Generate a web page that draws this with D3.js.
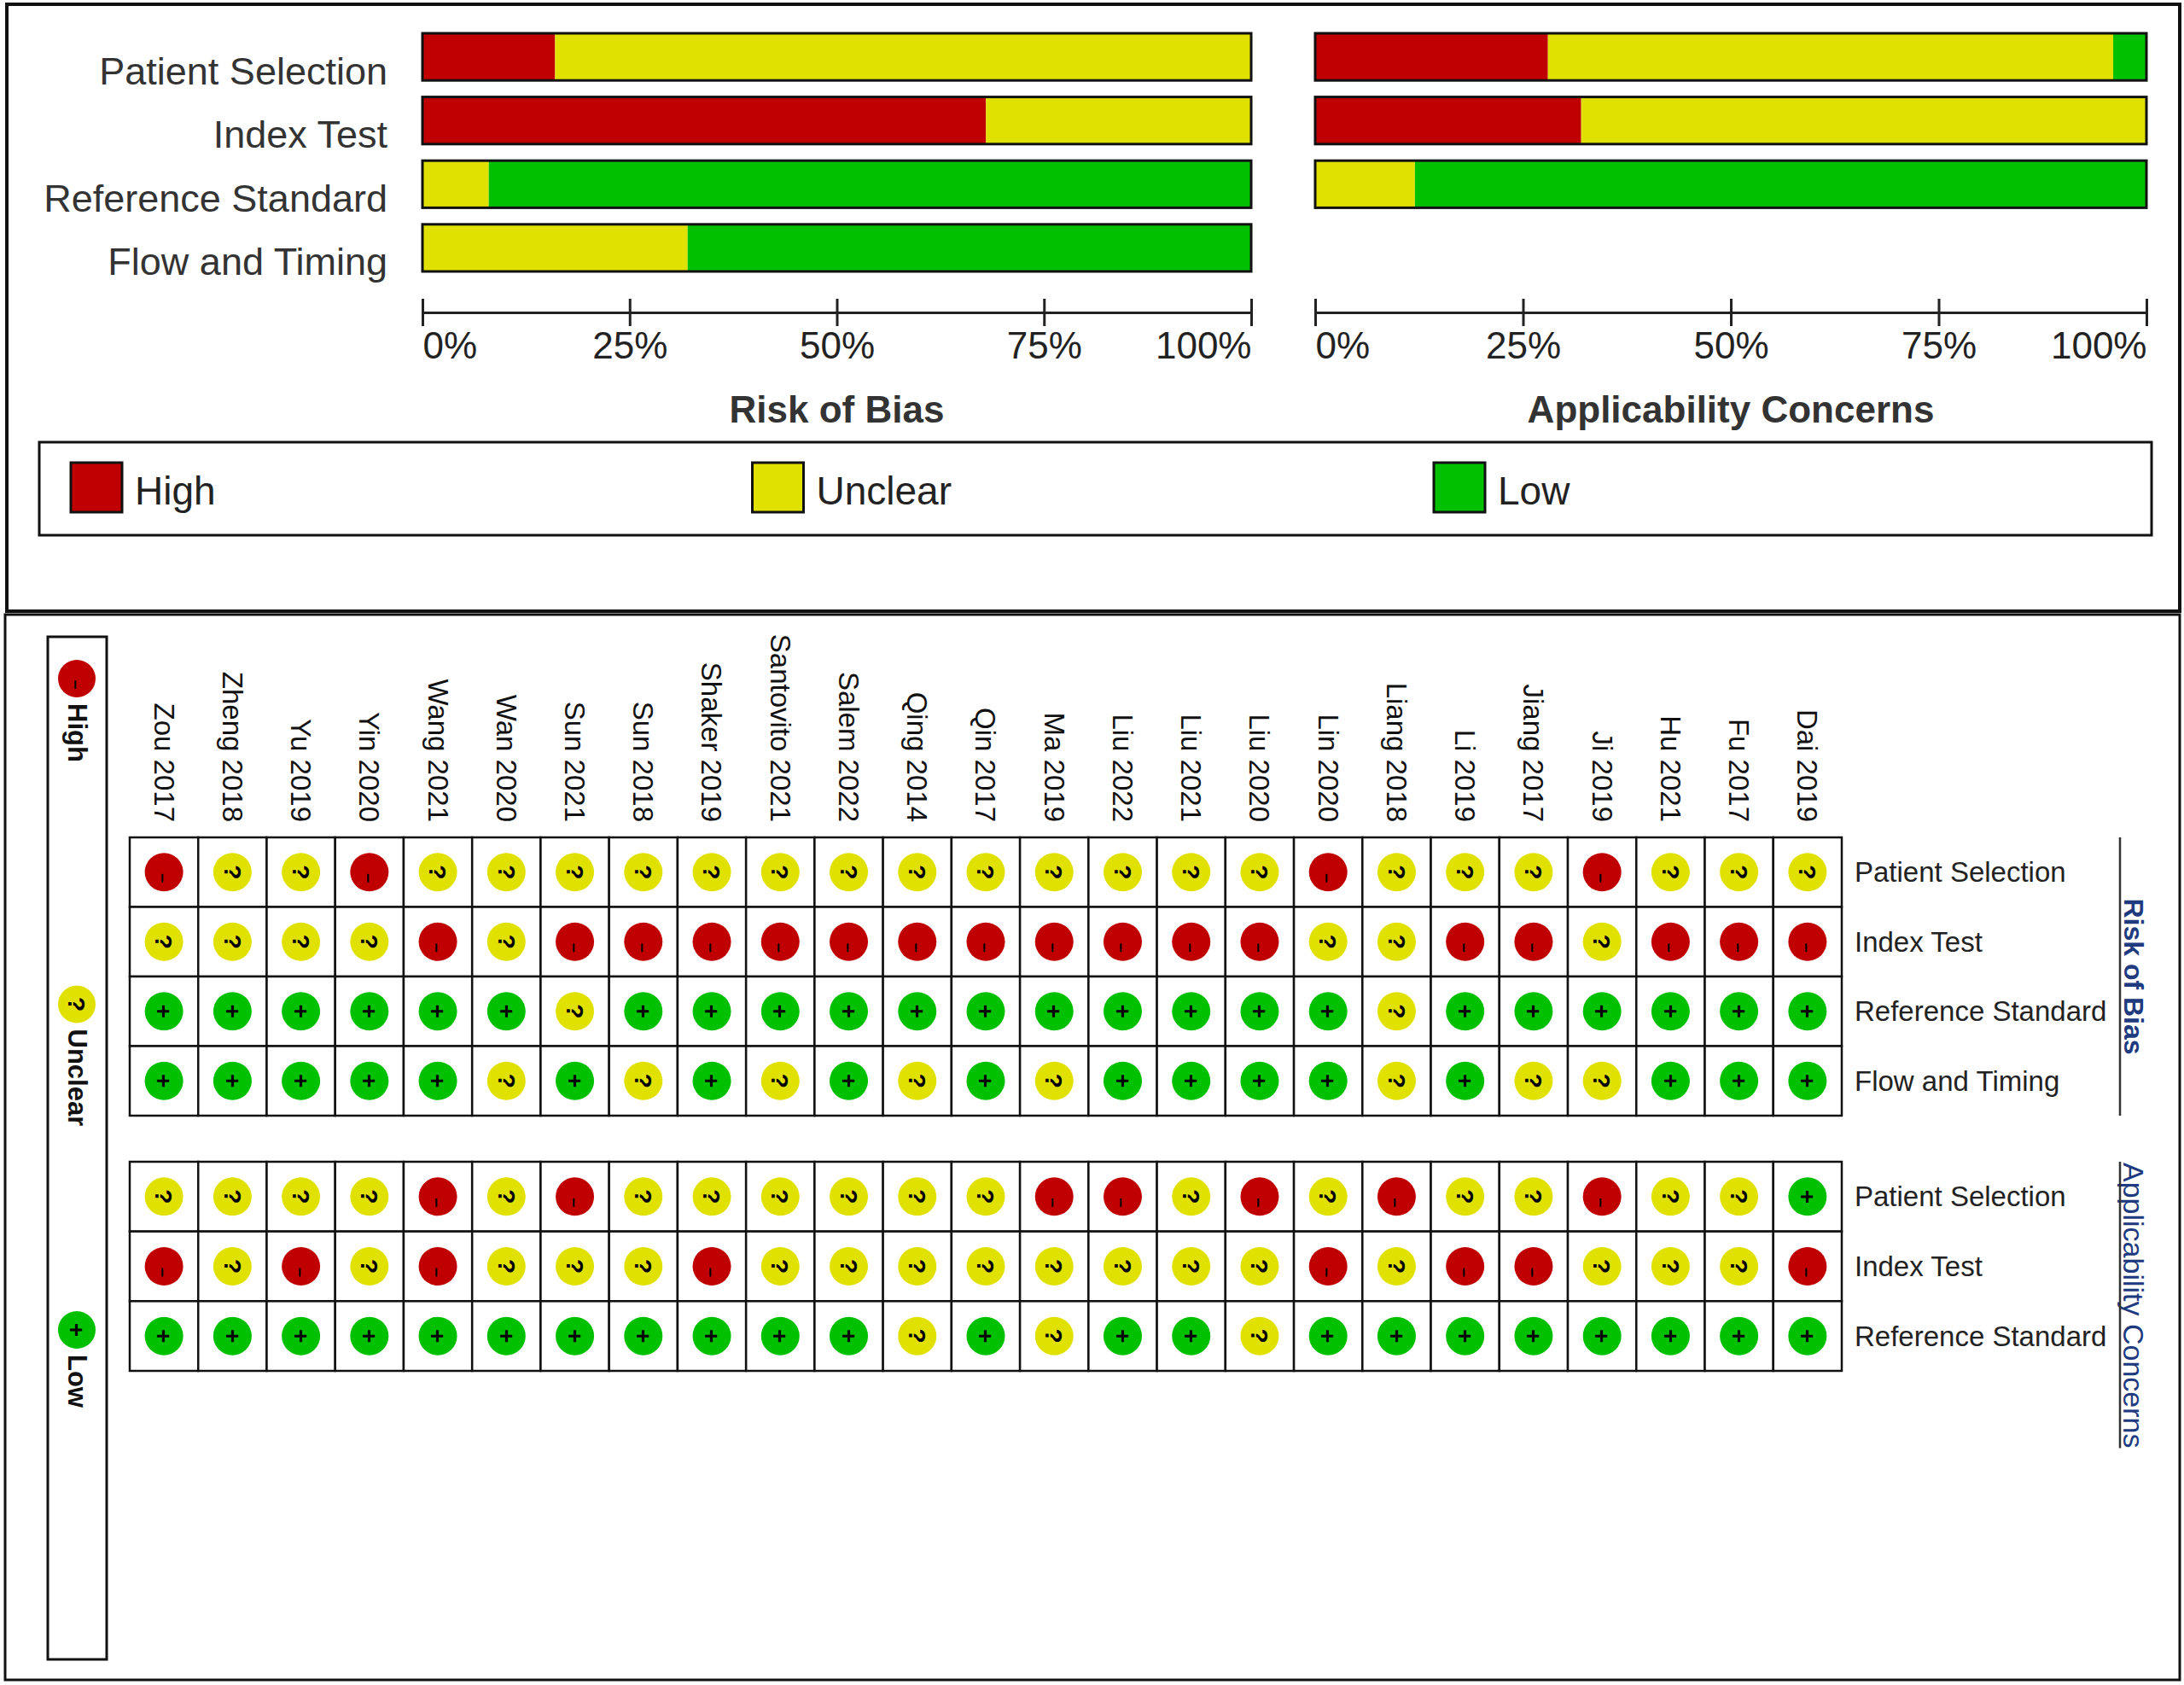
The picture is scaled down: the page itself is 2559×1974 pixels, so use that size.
<!DOCTYPE html>
<html>
<head>
<meta charset="utf-8">
<script src="https://cdn.jsdelivr.net/npm/d3@7"></script>
<style>
  body { margin: 0; background: #fff; }
  svg { display: block; font-family: "Liberation Sans", Arial, sans-serif; }
</style>
</head>
<body>
<div id="chart"></div>
<script>
"use strict";

// Studies, in the order they are shown (columns)
const studies = ["Zou 2017", "Zheng 2018", "Yu 2019", "Yin 2020", "Wang 2021", "Wan 2020",
    "Sun 2021", "Sun 2018", "Shaker 2019", "Santovito 2021", "Salem 2022", "Qing 2014",
    "Qin 2017", "Ma 2019", "Liu 2022", "Liu 2021", "Liu 2020", "Lin 2020", "Liang 2018",
    "Li 2019", "Jiang 2017", "Ji 2019", "Hu 2021", "Fu 2017", "Dai 2019"];

const biasDomains = ["Patient Selection", "Index Test", "Reference Standard", "Flow and Timing"];
const applDomains = ["Patient Selection", "Index Test", "Reference Standard"];

const levels = ["H", "U", "L"];
const levelNames = ["High", "Unclear", "Low"];
const levelColors = ["#c00000", "#e1e100", "#00c000"];
const levelSymbols = ["\u2013", "?", "+"];
const percentTicks = [0, 0.25, 0.5, 0.75, 1];

// Risk of bias judgements (one entry per study)
const biasPatientSelection  = ["H","U","U","H","U","U","U","U","U","U","U","U","U","U","U","U","U","H","U","U","U","H","U","U","U"];
const biasIndexTest         = ["U","U","U","U","H","U","H","H","H","H","H","H","H","H","H","H","H","U","U","H","H","U","H","H","H"];
const biasReferenceStandard = ["L","L","L","L","L","L","U","L","L","L","L","L","L","L","L","L","L","L","U","L","L","L","L","L","L"];
const biasFlowTiming        = ["L","L","L","L","L","U","L","U","L","U","L","U","L","U","L","L","L","L","U","L","U","U","L","L","L"];

// Applicability concerns judgements
const applPatientSelection  = ["U","U","U","U","H","U","H","U","U","U","U","U","U","H","H","U","H","U","H","U","U","H","U","U","L"];
const applIndexTest         = ["H","U","H","U","H","U","U","U","H","U","U","U","U","U","U","U","U","H","U","H","H","U","U","U","H"];
const applReferenceStandard = ["L","L","L","L","L","L","L","L","L","L","L","U","L","U","L","L","U","L","L","L","L","L","L","L","L"];

const biasRows = [biasPatientSelection, biasIndexTest, biasReferenceStandard, biasFlowTiming];
const applRows = [applPatientSelection, applIndexTest, applReferenceStandard];

var width = 2559, height = 1974;
var svg = d3.select('#chart').append('svg')
    .attr('width', width)
    .attr('height', height);

var color = d3.scaleOrdinal(levels, levelColors);
var symbol = d3.scaleOrdinal(levels, levelSymbols);
var symbolShift = { H: 7, U: 0, L: 0 };
var symbolSize = { H: 20, U: 28, L: 28 };

// Panel frames
svg.append('rect')
    .attr('x', 8).attr('y', 5).attr('width', 2546).attr('height', 711)
    .attr('fill', 'none').attr('stroke', '#111').attr('stroke-width', 4);
svg.append('rect')
    .attr('x', 6).attr('y', 720).attr('width', 2548).attr('height', 1248)
    .attr('fill', 'none').attr('stroke', '#111').attr('stroke-width', 3);

// ---------- Summary bars ----------
var yBar = d3.scaleBand()
    .domain(biasDomains)
    .range([39, 318])
    .paddingInner(0.26);

function summarise(rows, names) {
    return rows.map(function (r, i) {
        var o = { domain: names[i] };
        levels.forEach(l => o[l] = r.filter(v => v === l).length / r.length);
        return o;
    });
}

var stack = d3.stack().keys(levels);

function drawSummary(rows, names, x0, x1, title) {
    var x = d3.scaleLinear().domain([0, 1]).range([x0, x1]);
    var series = stack(summarise(rows, names));
    var g = svg.append('g');

    g.selectAll('g.series')
        .data(series)
        .enter()
        .append('g')
        .attr('fill', d => color(d.key))
        .selectAll('rect')
        .data(d => d)
        .enter()
        .append('rect')
        .attr('x', d => x(d[0]))
        .attr('y', d => yBar(d.data.domain))
        .attr('width', d => x(d[1]) - x(d[0]))
        .attr('height', yBar.bandwidth());

    g.selectAll('rect.outline')
        .data(names)
        .enter()
        .append('rect')
        .attr('class', 'outline')
        .attr('x', x(0))
        .attr('y', d => yBar(d))
        .attr('width', x(1) - x(0))
        .attr('height', yBar.bandwidth())
        .attr('fill', 'none')
        .attr('stroke', '#111')
        .attr('stroke-width', 3);

    var axis = g.append('g')
        .attr('transform', 'translate(0,366)')
        .call(d3.axisBottom(x).tickValues(percentTicks).tickFormat(d3.format('.0%')).tickSizeOuter(0).tickSize(16));
    axis.attr('font-family', null).attr('font-size', null);
    axis.select('.domain').attr('stroke', '#222').attr('stroke-width', 3);
    axis.selectAll('.tick line')
        .attr('y1', -16).attr('y2', 16)
        .attr('stroke', '#222').attr('stroke-width', 3);
    axis.selectAll('.tick text')
        .attr('y', 54).attr('dy', 0)
        .attr('font-size', 44)
        .attr('fill', '#222')
        .attr('text-anchor', (d, i) => i === 0 ? 'start' : (i === percentTicks.length - 1 ? 'end' : 'middle'));

    g.append('text')
        .text(title)
        .attr('x', (x0 + x1) / 2)
        .attr('y', 495)
        .attr('text-anchor', 'middle')
        .attr('font-weight', 'bold')
        .attr('font-size', 44)
        .attr('fill', '#333');
}

drawSummary(biasRows, biasDomains, 495, 1466, 'Risk of Bias');
drawSummary(applRows, applDomains, 1541, 2515, 'Applicability Concerns');

// Domain labels of the summary bars
svg.selectAll('text.barlabel')
    .data(biasDomains)
    .enter()
    .append('text')
    .attr('class', 'barlabel')
    .text(d => d)
    .attr('x', 454)
    .attr('y', d => yBar(d) + yBar.bandwidth() / 2 + 32)
    .attr('text-anchor', 'end')
    .attr('font-size', 45)
    .attr('fill', '#333');

// Horizontal legend
svg.append('rect')
    .attr('x', 46).attr('y', 518).attr('width', 2475).attr('height', 109)
    .attr('fill', 'none').attr('stroke', '#111').attr('stroke-width', 3);

var xLegend = d3.scalePoint().domain(levels).range([83, 1680]);
var legendItems = svg.selectAll('g.legenditem')
    .data(levels)
    .enter()
    .append('g')
    .attr('transform', d => 'translate(' + xLegend(d) + ',542)');
legendItems.append('rect')
    .attr('width', 60).attr('height', 58)
    .attr('fill', d => color(d))
    .attr('stroke', '#111').attr('stroke-width', 3);
legendItems.append('text')
    .text((d, i) => levelNames[i])
    .attr('x', 75)
    .attr('y', 49)
    .attr('font-size', 46)
    .attr('fill', '#222');

// ---------- Traffic-light grid ----------
var xCol = d3.scaleBand().domain(studies).range([152, 2158]);

// Study labels (rotated)
svg.selectAll('text.study')
    .data(studies)
    .enter()
    .append('text')
    .attr('class', 'study')
    .text(d => d)
    .attr('transform', d => 'translate(' + (xCol(d) + xCol.bandwidth() / 2) + ',963) rotate(90)')
    .attr('text-anchor', 'end')
    .attr('dy', '0.35em')
    .attr('font-size', 33)
    .attr('fill', '#111');

function drawSymbol(sel, r) {
    sel.append('circle')
        .attr('r', r)
        .attr('fill', d => color(d.value));
    sel.append('text')
        .text(d => symbol(d.value))
        .attr('transform', 'rotate(90)')
        .attr('x', d => symbolShift[d.value])
        .attr('dy', '0.35em')
        .attr('text-anchor', 'middle')
        .attr('font-weight', 'bold')
        .attr('font-size', d => symbolSize[d.value])
        .attr('fill', '#000');
}

function drawGrid(rows, names, y0, y1, title, titleWeight) {
    var yRow = d3.scaleBand().domain(names).range([y0, y1]);
    var cells = [];
    rows.forEach((r, i) => r.forEach((v, j) => cells.push({ domain: names[i], study: studies[j], value: v })));

    var g = svg.append('g');
    g.selectAll('rect')
        .data(cells)
        .enter()
        .append('rect')
        .attr('x', d => xCol(d.study))
        .attr('y', d => yRow(d.domain))
        .attr('width', xCol.bandwidth())
        .attr('height', yRow.bandwidth())
        .attr('fill', '#fff')
        .attr('stroke', '#111')
        .attr('stroke-width', 2.5);

    g.selectAll('g.cell')
        .data(cells)
        .enter()
        .append('g')
        .attr('class', 'cell')
        .attr('transform', d => 'translate(' + (xCol(d.study) + xCol.bandwidth() / 2) + ',' + (yRow(d.domain) + yRow.bandwidth() / 2) + ')')
        .call(drawSymbol, 22.5);

    g.selectAll('text.rowlabel')
        .data(names)
        .enter()
        .append('text')
        .attr('class', 'rowlabel')
        .text(d => d)
        .attr('x', 2173)
        .attr('y', d => yRow(d) + yRow.bandwidth() / 2)
        .attr('dy', '0.35em')
        .attr('font-size', 33)
        .attr('fill', '#222');

    // Section title, centred on the grid when it fits, otherwise from the top
    var t = g.append('text')
        .text(title)
        .attr('dy', '0.35em')
        .attr('font-size', titleWeight === 'bold' ? 32 : 34)
        .attr('font-weight', titleWeight)
        .attr('fill', '#203a80');
    var len = t.node().getComputedTextLength();
    var start = len < (y1 - y0) ? (y0 + y1 - len) / 2 : y0 + 1;
    t.attr('transform', 'translate(2500,' + start + ') rotate(90)');

    g.append('line')
        .attr('x1', 2484).attr('x2', 2484)
        .attr('y1', y0).attr('y2', Math.max(y1, start + len))
        .attr('stroke', '#333').attr('stroke-width', 2.5);
}

drawGrid(biasRows, biasDomains, 981, 1307, 'Risk of Bias', 'bold');
drawGrid(applRows, applDomains, 1361, 1606, 'Applicability Concerns', 'normal');

// Vertical legend
svg.append('rect')
    .attr('x', 56).attr('y', 746).attr('width', 69).attr('height', 1198)
    .attr('fill', 'none').attr('stroke', '#111').attr('stroke-width', 3);

var yLegend = d3.scalePoint().domain(levels).range([795, 1558]);
var vLegend = svg.selectAll('g.vlegend')
    .data(levels.map(l => ({ value: l })))
    .enter()
    .append('g')
    .attr('class', 'vlegend')
    .attr('transform', d => 'translate(90,' + yLegend(d.value) + ')');
vLegend.call(drawSymbol, 22);
vLegend.append('text')
    .text((d, i) => levelNames[i])
    .attr('transform', 'translate(1,29) rotate(90)')
    .attr('dy', '0.35em')
    .attr('font-weight', 'bold')
    .attr('font-size', 31)
    .attr('fill', '#111');
</script>
</body>
</html>
